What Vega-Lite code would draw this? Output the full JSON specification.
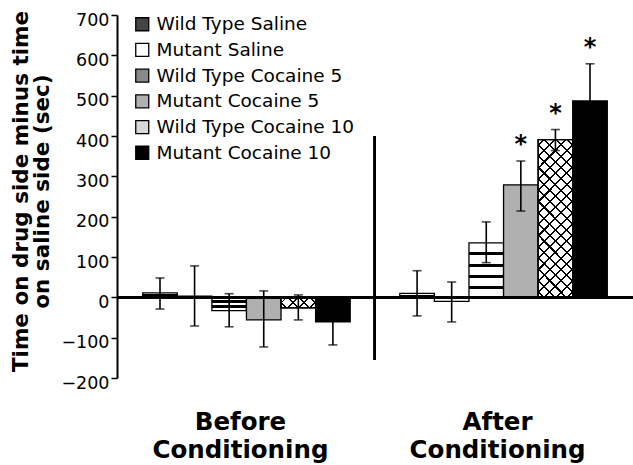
{
  "$schema": "https://vega.github.io/schema/vega-lite/v6.json",
  "width": 516,
  "height": 363,
  "autosize": {"type": "none"},
  "padding": {"left": 117, "top": 15, "right": 0, "bottom": 87},
  "background": "white",
  "config": {"font": "DejaVu Sans", "view": {"stroke": null}},
  "data": {"values": [
    {"phase": "Before", "group": "Wild Type Saline", "mean": 11, "lo": -29, "hi": 48, "star": ""},
    {"phase": "Before", "group": "Mutant Saline", "mean": 3, "lo": -71, "hi": 78, "star": ""},
    {"phase": "Before", "group": "Wild Type Cocaine 5", "mean": -33, "lo": -73, "hi": 9, "star": ""},
    {"phase": "Before", "group": "Mutant Cocaine 5", "mean": -56, "lo": -123, "hi": 16, "star": ""},
    {"phase": "Before", "group": "Wild Type Cocaine 10", "mean": -26, "lo": -56, "hi": 6, "star": ""},
    {"phase": "Before", "group": "Mutant Cocaine 10", "mean": -61, "lo": -118, "hi": -4, "star": ""},
    {"phase": "After", "group": "Wild Type Saline", "mean": 10, "lo": -46, "hi": 66, "star": ""},
    {"phase": "After", "group": "Mutant Saline", "mean": -10, "lo": -61, "hi": 38, "star": ""},
    {"phase": "After", "group": "Wild Type Cocaine 5", "mean": 135, "lo": 86, "hi": 187, "star": ""},
    {"phase": "After", "group": "Mutant Cocaine 5", "mean": 279, "lo": 214, "hi": 338, "star": "*"},
    {"phase": "After", "group": "Wild Type Cocaine 10", "mean": 391, "lo": 364, "hi": 416, "star": "*"},
    {"phase": "After", "group": "Mutant Cocaine 10", "mean": 487, "lo": 395, "hi": 579, "star": "*"}
  ]},
  "layer": [
    {
      "encoding": {
        "x": {
          "field": "phase", "type": "nominal",
          "scale": {"domain": ["Before", "After"], "paddingInner": 0.193, "paddingOuter": 0.1},
          "axis": {
            "title": null, "domain": false, "ticks": false, "labelAngle": 0,
            "labelFontSize": 24.5, "labelFontWeight": "bold", "labelColor": "black",
            "labelPadding": 32, "labelLineHeight": 28, "labelBaseline": "top", "labelOffset": -6,
            "labelExpr": "datum.value === 'Before' ? ['Before', 'Conditioning'] : ['After', 'Conditioning']"
          }
        },
        "xOffset": {
          "field": "group", "type": "nominal",
          "scale": {"domain": ["Wild Type Saline", "Mutant Saline", "Wild Type Cocaine 5", "Mutant Cocaine 5", "Wild Type Cocaine 10", "Mutant Cocaine 10"], "paddingInner": 0, "paddingOuter": 0}
        }
      },
      "layer": [
        {
          "mark": {"type": "bar", "stroke": "black", "strokeWidth": 1.3},
          "encoding": {
            "y": {
              "field": "mean", "type": "quantitative", "stack": null,
              "scale": {"domain": [-200, 700], "nice": false, "zero": false},
              "axis": {
                "values": [-200, -100, 0, 100, 200, 300, 400, 500, 600, 700],
                "grid": false, "domainColor": "black", "domainWidth": 2,
                "tickColor": "black", "tickWidth": 1.5, "tickSize": 6,
                "labelFontSize": 17.5, "labelColor": "black", "labelPadding": 2, "labelOffset": 5,
                "labelOverlap": false, "labelFlush": false,
                "title": ["Time on drug side minus time", "on saline side (sec)"],
                "titleFontSize": 21.5, "titleFontWeight": "bold", "titleColor": "black",
                "titleX": -107, "titleY": 176, "titleAngle": -90, "titleBaseline": "top",
                "titleAlign": "center", "titleLineHeight": 21
              }
            },
            "fill": {
              "field": "group", "type": "nominal",
              "condition": [
                {"test": "datum.phase === 'Before' && datum.group === 'Wild Type Cocaine 10'", "value": {"gradient": "linear", "x1": 0, "y1": 0, "x2": 1.194, "y2": 0.362, "stops": [
                  {"offset": 0, "color": "#fff"},
                  {"offset": 0.104, "color": "#fff"}, {"offset": 0.104, "color": "#000"}, {"offset": 0.146, "color": "#000"}, {"offset": 0.146, "color": "#fff"},
                  {"offset": 0.354, "color": "#fff"}, {"offset": 0.354, "color": "#000"}, {"offset": 0.396, "color": "#000"}, {"offset": 0.396, "color": "#fff"},
                  {"offset": 0.604, "color": "#fff"}, {"offset": 0.604, "color": "#000"}, {"offset": 0.646, "color": "#000"}, {"offset": 0.646, "color": "#fff"},
                  {"offset": 0.854, "color": "#fff"}, {"offset": 0.854, "color": "#000"}, {"offset": 0.896, "color": "#000"}, {"offset": 0.896, "color": "#fff"},
                  {"offset": 1, "color": "#fff"}]}},
                {"test": "datum.group === 'Wild Type Cocaine 10'", "value": {"gradient": "linear", "x1": 0, "y1": 0, "x2": 0.257, "y2": 1.164, "stops": [
                    {"offset": 0, "color": "#fff"},
                    {"offset": 0.0239, "color": "#fff"}, {"offset": 0.0239, "color": "#000"}, {"offset": 0.0349, "color": "#000"}, {"offset": 0.0349, "color": "#fff"},
                    {"offset": 0.0827, "color": "#fff"}, {"offset": 0.0827, "color": "#000"}, {"offset": 0.0937, "color": "#000"}, {"offset": 0.0937, "color": "#fff"},
                    {"offset": 0.1416, "color": "#fff"}, {"offset": 0.1416, "color": "#000"}, {"offset": 0.1526, "color": "#000"}, {"offset": 0.1526, "color": "#fff"},
                    {"offset": 0.2004, "color": "#fff"}, {"offset": 0.2004, "color": "#000"}, {"offset": 0.2114, "color": "#000"}, {"offset": 0.2114, "color": "#fff"},
                    {"offset": 0.2592, "color": "#fff"}, {"offset": 0.2592, "color": "#000"}, {"offset": 0.2702, "color": "#000"}, {"offset": 0.2702, "color": "#fff"},
                    {"offset": 0.318, "color": "#fff"}, {"offset": 0.318, "color": "#000"}, {"offset": 0.329, "color": "#000"}, {"offset": 0.329, "color": "#fff"},
                    {"offset": 0.3769, "color": "#fff"}, {"offset": 0.3769, "color": "#000"}, {"offset": 0.3879, "color": "#000"}, {"offset": 0.3879, "color": "#fff"},
                    {"offset": 0.4357, "color": "#fff"}, {"offset": 0.4357, "color": "#000"}, {"offset": 0.4467, "color": "#000"}, {"offset": 0.4467, "color": "#fff"},
                    {"offset": 0.4945, "color": "#fff"}, {"offset": 0.4945, "color": "#000"}, {"offset": 0.5055, "color": "#000"}, {"offset": 0.5055, "color": "#fff"},
                    {"offset": 0.5533, "color": "#fff"}, {"offset": 0.5533, "color": "#000"}, {"offset": 0.5643, "color": "#000"}, {"offset": 0.5643, "color": "#fff"},
                    {"offset": 0.6121, "color": "#fff"}, {"offset": 0.6121, "color": "#000"}, {"offset": 0.6231, "color": "#000"}, {"offset": 0.6231, "color": "#fff"},
                    {"offset": 0.671, "color": "#fff"}, {"offset": 0.671, "color": "#000"}, {"offset": 0.682, "color": "#000"}, {"offset": 0.682, "color": "#fff"},
                    {"offset": 0.7298, "color": "#fff"}, {"offset": 0.7298, "color": "#000"}, {"offset": 0.7408, "color": "#000"}, {"offset": 0.7408, "color": "#fff"},
                    {"offset": 0.7886, "color": "#fff"}, {"offset": 0.7886, "color": "#000"}, {"offset": 0.7996, "color": "#000"}, {"offset": 0.7996, "color": "#fff"},
                    {"offset": 0.8474, "color": "#fff"}, {"offset": 0.8474, "color": "#000"}, {"offset": 0.8584, "color": "#000"}, {"offset": 0.8584, "color": "#fff"},
                    {"offset": 0.9063, "color": "#fff"}, {"offset": 0.9063, "color": "#000"}, {"offset": 0.9173, "color": "#000"}, {"offset": 0.9173, "color": "#fff"},
                    {"offset": 0.9651, "color": "#fff"}, {"offset": 0.9651, "color": "#000"}, {"offset": 0.9761, "color": "#000"}, {"offset": 0.9761, "color": "#fff"},
                    {"offset": 1, "color": "#fff"}]}},
                {"test": "datum.phase === 'Before' && datum.group === 'Wild Type Cocaine 5'", "value": {"gradient": "linear", "x1": 0, "y1": 0, "x2": 0, "y2": 1, "stops": [
                  {"offset": 0, "color": "#fff"}, {"offset": 0.2, "color": "#fff"}, {"offset": 0.2, "color": "#000"}, {"offset": 0.4, "color": "#000"},
                  {"offset": 0.4, "color": "#fff"}, {"offset": 0.6, "color": "#fff"}, {"offset": 0.6, "color": "#000"}, {"offset": 0.8, "color": "#000"},
                  {"offset": 0.8, "color": "#fff"}, {"offset": 1, "color": "#fff"}]}},
                {"test": "datum.group === 'Wild Type Cocaine 5'", "value": {"gradient": "linear", "x1": 0, "y1": 0, "x2": 0, "y2": 1, "stops": [
                    {"offset": 0, "color": "#fff"}, {"offset": 0.16, "color": "#fff"}, {"offset": 0.16, "color": "#000"}, {"offset": 0.22, "color": "#000"},
                    {"offset": 0.22, "color": "#fff"}, {"offset": 0.39, "color": "#fff"}, {"offset": 0.39, "color": "#000"}, {"offset": 0.45, "color": "#000"},
                    {"offset": 0.45, "color": "#fff"}, {"offset": 0.59, "color": "#fff"}, {"offset": 0.59, "color": "#000"}, {"offset": 0.65, "color": "#000"},
                    {"offset": 0.65, "color": "#fff"}, {"offset": 0.79, "color": "#fff"}, {"offset": 0.79, "color": "#000"}, {"offset": 0.85, "color": "#000"},
                    {"offset": 0.85, "color": "#fff"}, {"offset": 1, "color": "#fff"}]}},
                {"test": "datum.group === 'Wild Type Saline'", "value": {"gradient": "linear", "x1": 0, "y1": 0, "x2": 0, "y2": 1, "stops": [
                    {"offset": 0, "color": "#fff"}, {"offset": 0.3, "color": "#fff"}, {"offset": 0.3, "color": "#000"}, {"offset": 0.7, "color": "#000"}, {"offset": 0.7, "color": "#fff"}, {"offset": 1, "color": "#fff"}]}}
              ],
              "scale": {
                "domain": ["Wild Type Saline", "Mutant Saline", "Wild Type Cocaine 5", "Mutant Cocaine 5", "Wild Type Cocaine 10", "Mutant Cocaine 10"],
                "range": ["#444444", "#ffffff", "#888888", "#b0b0b0", "#d8d8d8", "#000000"]
              },
              "legend": {
                "orient": "none", "legendX": 16, "legendY": 0, "title": null,
                "symbolType": "square", "symbolSize": 169, "symbolStrokeColor": "black", "symbolStrokeWidth": 1.3,
                "labelFontSize": 18.5, "labelColor": "black", "labelOffset": 5, "rowPadding": 6.7,
                "padding": 0, "labelLimit": 400,
                "encode": {"symbols": {"update": {
                  "stroke": {"value": "black"},
                  "strokeWidth": {"value": 1.3}
                }}}
              }
            }
          }
        },
        {
          "transform": [{"filter": "datum.group === 'Wild Type Cocaine 10'"}],
          "mark": {"type": "bar", "stroke": "black", "strokeWidth": 1.3},
          "encoding": {
            "y": {"field": "mean", "type": "quantitative", "stack": null},
            "fill": {
              "condition": {"test": "datum.phase === 'Before'", "value": {"gradient": "linear", "x1": 0, "y1": 1, "x2": 1.194, "y2": 0.638, "stops": [
                {"offset": 0, "color": "transparent"},
                {"offset": 0.104, "color": "transparent"}, {"offset": 0.104, "color": "#000"}, {"offset": 0.146, "color": "#000"}, {"offset": 0.146, "color": "transparent"},
                {"offset": 0.354, "color": "transparent"}, {"offset": 0.354, "color": "#000"}, {"offset": 0.396, "color": "#000"}, {"offset": 0.396, "color": "transparent"},
                {"offset": 0.604, "color": "transparent"}, {"offset": 0.604, "color": "#000"}, {"offset": 0.646, "color": "#000"}, {"offset": 0.646, "color": "transparent"},
                {"offset": 0.854, "color": "transparent"}, {"offset": 0.854, "color": "#000"}, {"offset": 0.896, "color": "#000"}, {"offset": 0.896, "color": "transparent"},
                {"offset": 1, "color": "transparent"}]}},
              "value": {"gradient": "linear", "x1": 0, "y1": 1, "x2": 0.257, "y2": -0.164, "stops": [
                {"offset": 0, "color": "transparent"},
                {"offset": 0.0239, "color": "transparent"}, {"offset": 0.0239, "color": "#000"}, {"offset": 0.0349, "color": "#000"}, {"offset": 0.0349, "color": "transparent"},
                {"offset": 0.0827, "color": "transparent"}, {"offset": 0.0827, "color": "#000"}, {"offset": 0.0937, "color": "#000"}, {"offset": 0.0937, "color": "transparent"},
                {"offset": 0.1416, "color": "transparent"}, {"offset": 0.1416, "color": "#000"}, {"offset": 0.1526, "color": "#000"}, {"offset": 0.1526, "color": "transparent"},
                {"offset": 0.2004, "color": "transparent"}, {"offset": 0.2004, "color": "#000"}, {"offset": 0.2114, "color": "#000"}, {"offset": 0.2114, "color": "transparent"},
                {"offset": 0.2592, "color": "transparent"}, {"offset": 0.2592, "color": "#000"}, {"offset": 0.2702, "color": "#000"}, {"offset": 0.2702, "color": "transparent"},
                {"offset": 0.318, "color": "transparent"}, {"offset": 0.318, "color": "#000"}, {"offset": 0.329, "color": "#000"}, {"offset": 0.329, "color": "transparent"},
                {"offset": 0.3769, "color": "transparent"}, {"offset": 0.3769, "color": "#000"}, {"offset": 0.3879, "color": "#000"}, {"offset": 0.3879, "color": "transparent"},
                {"offset": 0.4357, "color": "transparent"}, {"offset": 0.4357, "color": "#000"}, {"offset": 0.4467, "color": "#000"}, {"offset": 0.4467, "color": "transparent"},
                {"offset": 0.4945, "color": "transparent"}, {"offset": 0.4945, "color": "#000"}, {"offset": 0.5055, "color": "#000"}, {"offset": 0.5055, "color": "transparent"},
                {"offset": 0.5533, "color": "transparent"}, {"offset": 0.5533, "color": "#000"}, {"offset": 0.5643, "color": "#000"}, {"offset": 0.5643, "color": "transparent"},
                {"offset": 0.6121, "color": "transparent"}, {"offset": 0.6121, "color": "#000"}, {"offset": 0.6231, "color": "#000"}, {"offset": 0.6231, "color": "transparent"},
                {"offset": 0.671, "color": "transparent"}, {"offset": 0.671, "color": "#000"}, {"offset": 0.682, "color": "#000"}, {"offset": 0.682, "color": "transparent"},
                {"offset": 0.7298, "color": "transparent"}, {"offset": 0.7298, "color": "#000"}, {"offset": 0.7408, "color": "#000"}, {"offset": 0.7408, "color": "transparent"},
                {"offset": 0.7886, "color": "transparent"}, {"offset": 0.7886, "color": "#000"}, {"offset": 0.7996, "color": "#000"}, {"offset": 0.7996, "color": "transparent"},
                {"offset": 0.8474, "color": "transparent"}, {"offset": 0.8474, "color": "#000"}, {"offset": 0.8584, "color": "#000"}, {"offset": 0.8584, "color": "transparent"},
                {"offset": 0.9063, "color": "transparent"}, {"offset": 0.9063, "color": "#000"}, {"offset": 0.9173, "color": "#000"}, {"offset": 0.9173, "color": "transparent"},
                {"offset": 0.9651, "color": "transparent"}, {"offset": 0.9651, "color": "#000"}, {"offset": 0.9761, "color": "#000"}, {"offset": 0.9761, "color": "transparent"},
                {"offset": 1, "color": "transparent"}]}
            }
          }
        },
        {
          "mark": {"type": "rule", "color": "black", "strokeWidth": 1.6},
          "encoding": {
            "y": {"field": "lo", "type": "quantitative"},
            "y2": {"field": "hi"}
          }
        },
        {
          "mark": {"type": "tick", "orient": "horizontal", "size": 9, "thickness": 1.6, "color": "black"},
          "encoding": {"y": {"field": "lo", "type": "quantitative"}}
        },
        {
          "mark": {"type": "tick", "orient": "horizontal", "size": 9, "thickness": 1.6, "color": "black"},
          "encoding": {"y": {"field": "hi", "type": "quantitative"}}
        },
        {
          "transform": [{"filter": "datum.star !== ''"}],
          "mark": {"type": "text", "fontSize": 24, "fontWeight": "bold", "color": "black", "baseline": "alphabetic", "dy": -9},
          "encoding": {
            "y": {"field": "hi", "type": "quantitative"},
            "text": {"field": "star"}
          }
        }
      ]
    },
    {
      "mark": {"type": "rule", "color": "black", "strokeWidth": 2},
      "encoding": {"y": {"datum": 0}}
    },
    {
      "mark": {"type": "rule", "color": "black", "strokeWidth": 2, "xOffset": -25},
      "encoding": {
        "x": {"datum": "After", "type": "nominal", "bandPosition": 0},
        "y": {"datum": 400},
        "y2": {"datum": -155}
      }
    }
  ]
}
